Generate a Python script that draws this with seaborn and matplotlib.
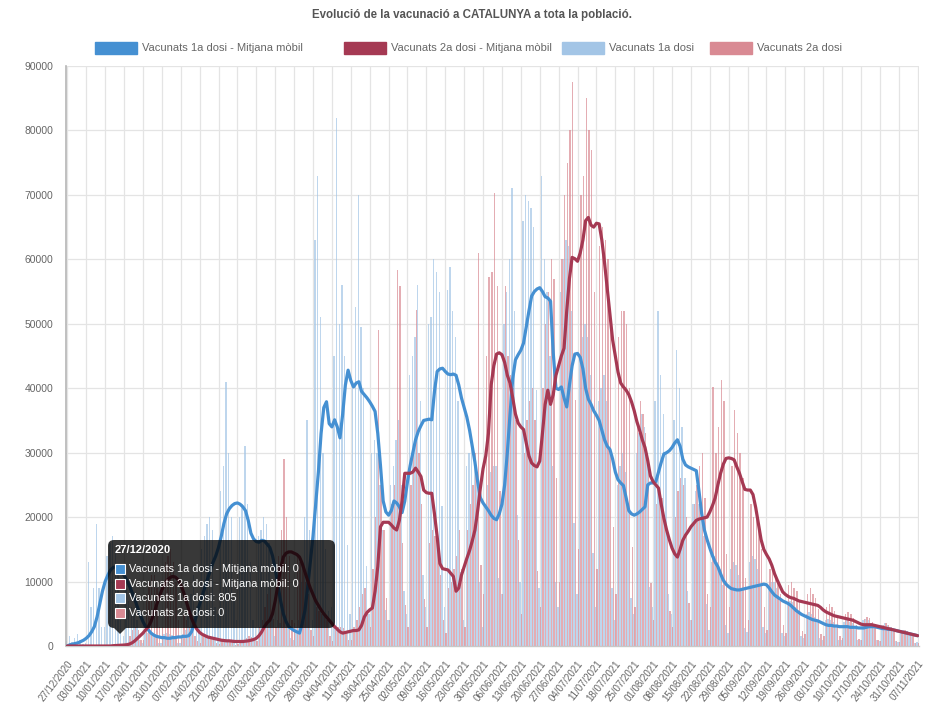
import matplotlib
matplotlib.use("Agg")
import numpy as np
import pandas as pd
import matplotlib.pyplot as plt
import seaborn as sns
from matplotlib.patches import Rectangle, FancyBboxPatch, Polygon
from matplotlib.transforms import IdentityTransform

# ---------------- data ----------------
dates = pd.date_range("2020-12-27", "2021-11-07", freq="D")
date_labels = [d.strftime("%d/%m/%Y") for d in dates]
tick_days = list(range(0, len(dates), 7))
y_ticks = [0, 10000, 20000, 30000, 40000, 50000, 60000, 70000, 80000, 90000]

series_names = ["Vacunats 1a dosi - Mitjana mòbil", "Vacunats 2a dosi - Mitjana mòbil",
                "Vacunats 1a dosi", "Vacunats 2a dosi"]

blue_bars = [
    805, 1500, 600, 1200, 1800, 900, 300,
    400, 13000, 6000, 9000, 19000, 9000, 3000,
    3000, 14000, 16000, 17000, 15000, 11000, 4000,
    1500, 9000, 7000, 6000, 5000, 4000, 1000,
    500, 2000, 2000, 1800, 1600, 1400, 500,
    400, 1800, 2000, 1900, 1700, 1400, 400,
    500, 1800, 2500, 5000, 8000, 11000, 6200,
    3000, 15000, 17000, 19000, 20000, 18000, 6000,
    5000, 24000, 28000, 41000, 30000, 20000, 7000,
    4000, 20000, 22000, 31000, 22000, 13000, 4000,
    3000, 17000, 18000, 20000, 19000, 16000, 5000,
    1500, 4000, 3500, 3000, 3000, 2800, 1200,
    1000, 3000, 4000, 10000, 20000, 35000, 18000,
    4000, 63000, 73000, 51000, 30000, 15000, 5500,
    6000, 45000, 82000, 50000, 56000, 45000, 15600,
    5000, 40000, 52600, 70000, 49500, 40000, 12400,
    5000, 30000, 32000, 30000, 25000, 18000, 5600,
    4000, 25000, 28000, 32000, 35000, 25000, 8500,
    5000, 42000, 45000, 48000, 56000, 38000, 11000,
    6000, 50000, 51000, 60000, 58000, 55000, 21700,
    6000, 55200, 58800, 52000, 48000, 38000, 11500,
    4000, 28000, 30000, 32000, 30000, 27000, 10000,
    3000, 22000, 25000, 27000, 28000, 28000, 10500,
    8000, 50000, 55000, 60000, 71000, 52000, 20400,
    10000, 66000, 70000, 69000, 68000, 65000, 39800,
    9000, 73000, 60000, 55000, 45000, 28000, 10000,
    6000, 55000, 60000, 63000, 62000, 52000, 19100,
    8000, 45000, 48000, 50000, 48000, 42000, 14500,
    6000, 38000, 40000, 42000, 38000, 30000, 9000,
    4000, 25000, 28000, 30000, 27000, 22000, 7500,
    5000, 30000, 33000, 36000, 34000, 30000, 9100,
    6000, 38000, 52000, 42000, 36000, 30000, 8100,
    5000, 35000, 46000, 40000, 34000, 26000, 8600,
    4000, 22000, 24000, 22000, 20000, 17000, 6500,
    2500, 13000, 14000, 13000, 12000, 9500, 3200,
    2000, 12000, 13000, 12500, 11000, 9000, 2800,
    2200, 13000, 14000, 13500, 12000, 9500, 3000,
    2000, 9000, 10000, 10000, 9000, 7000, 2000,
    1500, 6500, 7000, 6800, 6000, 5000, 1500,
    1200, 5000, 5200, 5000, 4500, 3800, 1200,
    1000, 4000, 4200, 4000, 3800, 3000, 1000,
    900, 3800, 4000, 3800, 3500, 2700, 900,
    900, 4000, 4200, 4000, 3500, 2800, 900,
    800, 3300, 3500, 3300, 3000, 2200, 700,
    600, 2300, 2500, 2400, 2100, 1500, 500,
    600,
]

red_bars = [
    0, 0, 0, 0, 0, 0, 0,
    0, 0, 0, 0, 0, 0, 0,
    0, 0, 0, 100, 200, 300, 200,
    100, 500, 1500, 2500, 3000, 2500, 1000,
    1000, 8000, 10000, 11000, 11000, 9000, 3000,
    3000, 13000, 14000, 15000, 13000, 10000, 4000,
    1500, 5000, 4000, 3000, 2500, 1500, 700,
    500, 1500, 1500, 1400, 1200, 1100, 500,
    300, 900, 1000, 1000, 900, 600, 200,
    300, 900, 1000, 1200, 1500, 1400, 700,
    800, 3000, 4000, 6000, 8000, 9000, 4200,
    3000, 14000, 18000, 29000, 20000, 14000, 4000,
    3500, 14000, 13000, 12000, 10000, 8000, 2500,
    1500, 6000, 5500, 5000, 4500, 4000, 1500,
    800, 2500, 3000, 3000, 2800, 2400, 900,
    1000, 3000, 4000, 6000, 8000, 9000, 5400,
    3000, 12000, 20000, 49000, 25000, 18000, 7400,
    4000, 22000, 25000, 58400, 55800, 16000, 6400,
    3000, 25000, 30000, 52100, 30000, 22000, 7300,
    3000, 16000, 18000, 17000, 15000, 11000, 4000,
    2000, 9000, 10000, 12000, 14000, 18000, 12000,
    3000, 18000, 22000, 25000, 30000, 61000, 12500,
    8000, 45000, 57300, 58000, 70300, 55800, 24100,
    8000, 55800, 45000, 42000, 40000, 35000, 16400,
    5000, 30000, 35000, 38000, 40000, 35000, 11600,
    6000, 40000, 50000, 55000, 60000, 57000, 26000,
    10000, 60000, 70000, 75000, 80000, 87500, 38200,
    15000, 70000, 73000, 85000, 80000, 77000, 55000,
    12000, 62000, 65000, 63000, 60000, 52000, 18500,
    8000, 48000, 52000, 52000, 50000, 40000, 15300,
    6000, 35000, 38000, 36000, 33000, 27000, 9800,
    4000, 22000, 24000, 23000, 20000, 17000, 5500,
    3000, 20000, 24000, 26000, 25000, 20000, 6600,
    4000, 22000, 25000, 28000, 30000, 23000, 8000,
    6000, 40200, 30000, 34000, 41300, 38000, 14200,
    6000, 28000, 36600, 33000, 30000, 26000, 10500,
    4000, 22000, 20000, 20000, 18000, 15000, 6000,
    2500, 12000, 12000, 11000, 10000, 8000, 3300,
    2000, 9500, 10000, 9000, 8500, 7000, 2300,
    1800, 8000, 9000, 8000, 7500, 5800, 1900,
    1500, 6000, 6500, 6000, 5500, 4500, 1500,
    1200, 5000, 5200, 5000, 4400, 3300, 1100,
    1000, 4200, 4500, 4300, 3800, 3000, 900,
    800, 3300, 3500, 3300, 3000, 2200, 700,
    600, 2400, 2500, 2300, 2000, 1600, 500,
    500,
]

blue_ma = [
    0, 200, 300, 400, 500, 700, 900,
    1200, 1600, 2200, 3000, 4500, 6500, 8500,
    10000, 11000, 11800, 12200, 12300, 12000, 11500,
    11000, 10200, 9300, 8300, 7200, 6000, 4800,
    3800, 3000, 2500, 2000, 1700, 1500, 1400,
    1300, 1300, 1200, 1200, 1300, 1300, 1400,
    1400, 1500, 1500, 1600, 2200, 3500, 5000,
    6500, 7800, 9200, 10500, 11800, 13000, 14000,
    15300, 17000, 19000, 20500, 21300, 21800, 22100,
    22200, 22000, 21600, 21000, 19500, 17500, 16600,
    16200, 16100, 16400, 16300, 15800, 15300, 14000,
    12000, 9500, 7000, 5000, 3800, 3000, 2700,
    2400, 2200, 2000, 3500, 5500, 9000, 13000,
    17000, 22000, 27000, 33000, 37000, 37900, 34500,
    34000, 35100, 34000, 32300, 36000, 40500, 42800,
    41200, 40200, 40800, 41000, 39500, 39000, 38500,
    37900, 37200, 36400, 33000, 28000, 22500, 20800,
    20300, 21000, 22500, 22200, 21600, 20700, 22500,
    25500, 28000, 30000, 32000, 33300, 34200, 35000,
    35100, 35200, 35100, 39500, 42600, 43000, 43100,
    42600, 42200, 42100, 42200, 42000, 40500, 38500,
    37000, 35500, 33500, 31000, 28500, 25500, 23000,
    22200, 21600, 21000, 20300, 19800, 19600, 20500,
    22000, 25000, 30000, 36000, 41500, 44400, 45200,
    45900, 47000, 49500, 52000, 54300, 55000, 55400,
    55600, 55000, 54200, 54000, 53500, 45500, 40000,
    39800, 40200, 38500, 37100, 40500, 43500, 45300,
    45400, 44800, 43000, 40000, 38300, 37500, 36500,
    35800, 35000, 33500, 32000, 31000, 30500, 29000,
    27000, 25800, 25300, 24900, 23000, 21000, 20500,
    20300, 20500, 20800, 21200, 21600, 25000, 25300,
    25300, 25500, 27000, 28500, 29800, 30000, 30300,
    30800, 31500, 32000, 31000, 29000, 28100, 27800,
    27600, 27400, 27200, 24000, 20500, 18000, 16500,
    15200, 14000, 13000, 12300, 11200, 10200, 9600,
    9200, 8900, 8800, 8700, 8700, 8800, 8900,
    9000, 9100, 9200, 9300, 9400, 9500, 9600,
    9500, 9000, 8400, 7900, 7600, 7300, 7000,
    6800, 6600, 6300, 5900, 5500, 5200, 4900,
    4700, 4500, 4300, 4100, 4000, 3900, 3700,
    3500, 3300, 3200, 3200, 3100, 3100, 3000,
    3000, 3000, 3000, 2900, 2900, 2900, 2800,
    2800, 2800, 2900, 3000, 3000, 3000, 2900,
    2800, 2700, 2700, 2600, 2600, 2500, 2400,
    2300, 2200, 2100, 2000, 1900, 1800, 1700,
    1600,
]

red_ma = [
    0, 0, 0, 0, 0, 0, 0,
    0, 0, 0, 0, 0, 0, 0,
    0, 0, 0, 50, 80, 100, 120,
    150, 200, 300, 500, 800, 1200, 1600,
    2000, 2500, 3000, 3800, 5000, 6300, 7600,
    8700, 9600, 10200, 10600, 10800, 10700, 10300,
    9500, 8400, 7000, 5600, 4300, 3300, 2600,
    2100, 1800, 1600, 1400, 1300, 1200, 1100,
    1000, 900, 850, 800, 800, 750, 700,
    700, 700, 700, 750, 800, 900, 1000,
    1200, 1600, 2200, 3000, 3600, 4000, 5000,
    7000, 9500, 12000, 13800, 14400, 14600, 14600,
    14400, 14200, 13800, 12800, 11500, 10200, 9000,
    8000, 7000, 6300, 5600, 5000, 4500, 4000,
    3500, 3000, 2600, 2200, 2000, 2100, 2200,
    2300, 2400, 2400, 2500, 3200, 4500, 5200,
    5600, 5900, 8500, 12300, 18500, 19200, 19200,
    19200, 18800, 18300, 18000, 19500, 22500, 26800,
    26800, 26800, 27000, 27600, 27000, 26300, 24200,
    23800, 23700, 23700, 20500, 17000, 12800, 12000,
    11900, 11800, 11300, 10800, 8500, 9000, 11000,
    12300, 13600, 14800, 16300, 18000, 21000, 24500,
    27500, 29500, 33000, 40500, 43500, 45300, 45500,
    45200, 44000, 42000, 40800, 38500, 36000, 34600,
    34000, 33600, 31500, 29500, 28400, 28000, 27800,
    28700, 33000, 37500, 39700, 37500, 39000, 42000,
    43500, 45000, 46200, 52000, 57000, 60300, 60100,
    59700, 61000, 63000, 66000, 66500, 65300, 65000,
    65600, 65500, 63000, 59500, 55500, 51500, 47500,
    45000, 42500, 40800, 40200, 39700, 39000, 37900,
    36500, 34800, 33500, 32000, 30800, 28800, 26400,
    25500, 25000, 24500, 22000, 19800, 18000, 16500,
    15200, 14300, 13800, 15000, 16400, 17200, 17800,
    18500, 19000, 19500, 19700, 19800, 19900, 20000,
    20800, 21800, 23000, 25000, 26800, 28200, 29100,
    29200, 29100, 28900, 27800, 26800, 25500, 24300,
    24200, 24200, 23500, 21500, 19000, 16500, 15000,
    14200, 13500, 12500, 11200, 10200, 9300, 8400,
    8000, 7700, 7500, 7400, 7200, 7000, 6900,
    6800, 6700, 6600, 6500, 6400, 6300, 6000,
    5600, 5300, 5100, 4900, 4700, 4600, 4500,
    4400, 4300, 4200, 4100, 4000, 3800, 3600,
    3400, 3300, 3300, 3300, 3300, 3200, 3100,
    3000, 2900, 2800, 2700, 2600, 2500, 2400,
    2300, 2200, 2100, 2000, 1900, 1800, 1700,
    1600,
]

tooltip_title = "27/12/2020"
tooltip_lines = ["Vacunats 1a dosi - Mitjana mòbil: 0", "Vacunats 2a dosi - Mitjana mòbil: 0",
                 "Vacunats 1a dosi: 805", "Vacunats 2a dosi: 0"]

# ---------------- style ----------------
sns.set_theme(style="white")
plt.rcParams["font.family"] = ["Liberation Sans", "DejaVu Sans"]

c_blue_line = "#4590d2"
c_red_line = "#a53953"
c_blue_bar = "#a3c5e6"
c_red_bar = "#d98a93"
grid_col = "#e4e4e4"
txt_col = "#666666"

W, H = 925, 707
fig = plt.figure(figsize=(W / 100, H / 100), dpi=100)
L, R, T, B = 66, 919, 66, 646
ax = fig.add_axes([L / W, 1 - B / H, (R - L) / W, (B - T) / H])

N = len(dates)
days = np.arange(N)
df_bars = pd.DataFrame({
    "day": np.concatenate([days, days]),
    "value": blue_bars + red_bars,
    "serie": [series_names[2]] * N + [series_names[3]] * N,
})

sns.barplot(data=df_bars, x="day", y="value", hue="serie",
            palette={series_names[2]: c_blue_bar, series_names[3]: c_red_bar},
            dodge=True, width=1.0, errorbar=None, saturation=1, linewidth=0,
            alpha=0.7, legend=False, ax=ax, zorder=2)

sns.lineplot(x=days, y=blue_ma, color=c_blue_line, linewidth=2.3, ax=ax, zorder=4)
sns.lineplot(x=days, y=red_ma, color=c_red_line, linewidth=2.3, ax=ax, zorder=5)

ax.set_xlim(-0.5, N - 0.5)
ax.set_ylim(0, 90000)
ax.set_yticks(y_ticks)
ax.set_yticklabels([str(v) for v in y_ticks], fontsize=7.5, color=txt_col)
ax.set_xticks(tick_days)
ax.set_xticklabels([date_labels[d] for d in tick_days], rotation=52, ha="right",
                   rotation_mode="anchor", fontsize=7.0, color=txt_col)
ax.set_xlabel("")
ax.set_ylabel("")
ax.xaxis.grid(True, color=grid_col, linewidth=0.9)
ax.yaxis.grid(True, color=grid_col, linewidth=0.9)
ax.set_axisbelow(True)
ax.tick_params(axis="both", length=6, width=0.9, color=grid_col, pad=3)
for s in ["top", "right"]:
    ax.spines[s].set_visible(False)
ax.spines["left"].set_color("#b5b5b5")
ax.spines["bottom"].set_color("#c8c8c8")
ax.spines["left"].set_linewidth(1.2)
ax.spines["bottom"].set_linewidth(1.0)

# ---------------- title & legend (pixel coordinates) ----------------
px = IdentityTransform()
fig.text(472 / W, 1 - 15 / H, "Evolució de la vacunació a CATALUNYA a tota la població.",
         ha="center", va="center", fontsize=8.3, fontweight="bold", color="#555555")

leg_items = [(95, c_blue_line, series_names[0]), (344, c_red_line, series_names[1]),
             (562, c_blue_bar, series_names[2]), (710, c_red_bar, series_names[3])]
for x0, col, name in leg_items:
    fig.add_artist(Rectangle((x0, H - 54), 42, 12, transform=px, facecolor=col,
                             edgecolor=col, linewidth=1))
    fig.text((x0 + 47) / W, 1 - 48 / H, name, ha="left", va="center",
             fontsize=8, color=txt_col)

# ---------------- tooltip ----------------
tx0, ty0, tw, th = 108, 540, 227, 88
fig.add_artist(FancyBboxPatch((tx0, H - ty0 - th), tw, th,
                              boxstyle="round,pad=0,rounding_size=6", transform=px,
                              facecolor=(0, 0, 0, 0.78), edgecolor="none", zorder=10))
fig.add_artist(Polygon([[114, H - 628], [126, H - 628], [120, H - 634]], closed=True,
                       transform=px, facecolor=(0, 0, 0, 0.78), edgecolor="none", zorder=10))
fig.text(115 / W, 1 - 550 / H, tooltip_title, ha="left", va="center", fontsize=8,
         fontweight="bold", color="white", zorder=11)
sq_cols = [c_blue_line, c_red_line, c_blue_bar, c_red_bar]
for i, (line, col) in enumerate(zip(tooltip_lines, sq_cols)):
    yc = 569 + i * 14.6
    fig.add_artist(Rectangle((115, H - yc - 5), 10, 10, transform=px, facecolor=col,
                             edgecolor="white", linewidth=0.8, zorder=11))
    fig.text(129 / W, 1 - yc / H, line, ha="left", va="center", fontsize=7.8,
             color="white", zorder=11)

fig.savefig("out.png", dpi=100)
